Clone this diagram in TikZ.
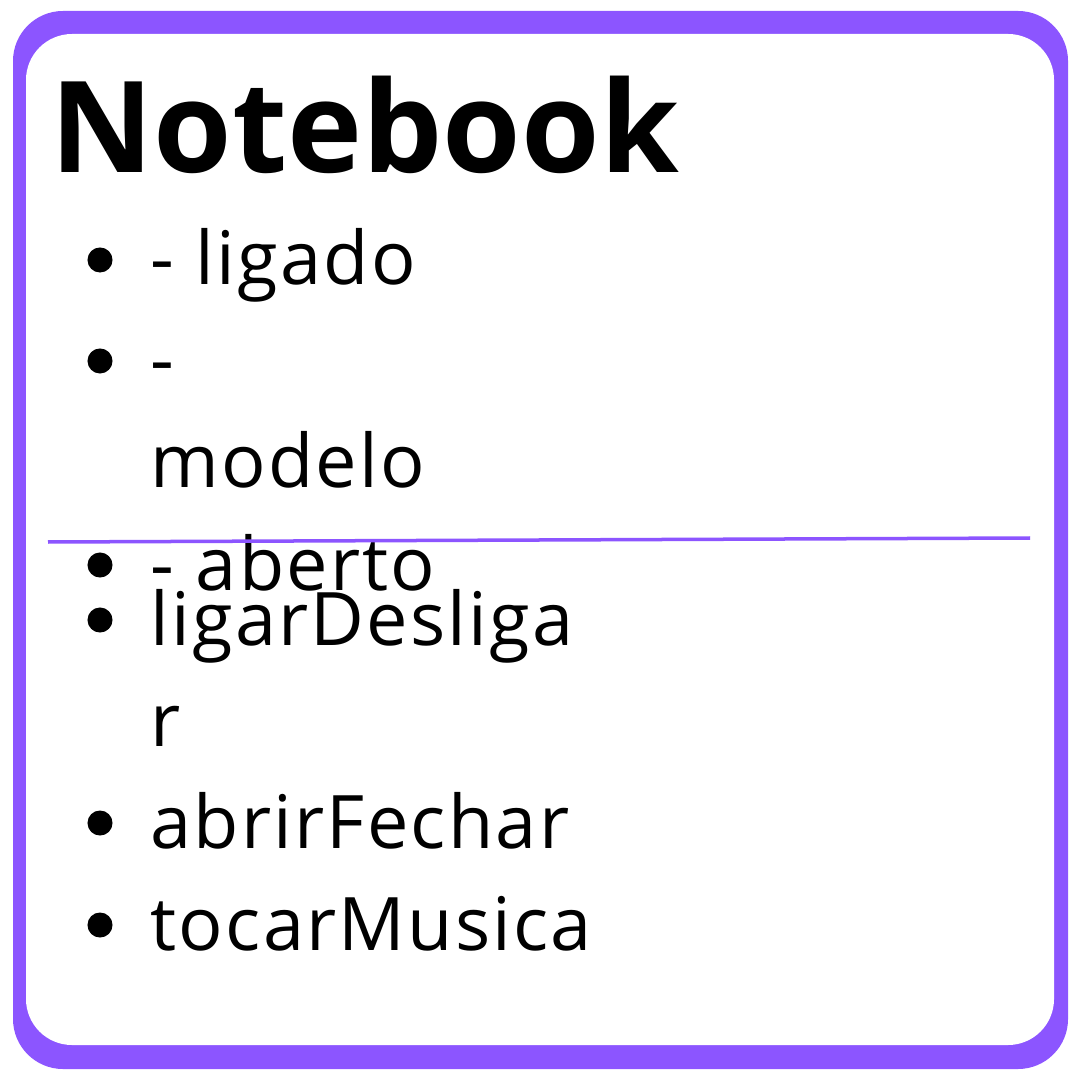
\documentclass[tikz,border=0pt]{standalone}
\usepackage{fontspec}
\setmainfont{Open Sans}
\usepackage{xcolor}
\usetikzlibrary{positioning}
\definecolor{umlviolet}{RGB}{140,85,255}

\begin{document}
\begin{tikzpicture}[x=0.01cm, y=-0.01cm,
    classname/.style={font=\fontsize{36.1}{44}\selectfont\bfseries, inner sep=0pt, anchor=base west},
    member/.style={font=\fontsize{21}{29}\selectfont\addfontfeature{LetterSpace=3}, inner sep=0pt, anchor=base west},
    dot/.style={circle, fill=black, inner sep=0pt, minimum size=0.25cm},
    divider/.style={draw=umlviolet, line width=0.035cm}]

    \useasboundingbox (0,0) rectangle (1080,1080);

    % Frame
    \fill[umlviolet, rounded corners=0.5cm] (13,11) rectangle (1068,1069);
    \fill[white, rounded corners=0.46cm] (26,34) rectangle (1054,1045);

    % Class name
    \node[classname] (name) at (50,173) {Notebook};

    % Attributes
    \node[member] (ligado) at (150,285) {- ligado};
    \node[member] (dash) at (150,386) {-};
    \node[member] (modelo) at (150,488) {modelo};
    \node[member] (aberto) at (150,590) {- aberto};

    % Divider
    \coordinate (divL) at (48,542);
    \coordinate (divR) at (1030,538);
    \draw[divider] (divL) -- (divR);

    % Methods
    \node[member] (ligar) at (150,645) {ligarDesliga};
    \node[member] (ligarr) at (150,746) {r};
    \node[member] (abrir) at (150,848) {abrirFechar};
    \node[member] (tocar) at (150,950) {tocarMusica};

    % Bullets
    \node[dot] (dot1) at ([shift={(-50,-25)}]ligado.base west) {};
    \node[dot] (dot2) at ([shift={(-50,-25)}]dash.base west) {};
    \node[dot] (dot3) at ([shift={(-50,-25)}]aberto.base west) {};
    \node[dot] (dot4) at ([shift={(-50,-25)}]ligar.base west) {};
    \node[dot] (dot5) at ([shift={(-50,-25)}]abrir.base west) {};
    \node[dot] (dot6) at ([shift={(-50,-25)}]tocar.base west) {};
\end{tikzpicture}
\end{document}
